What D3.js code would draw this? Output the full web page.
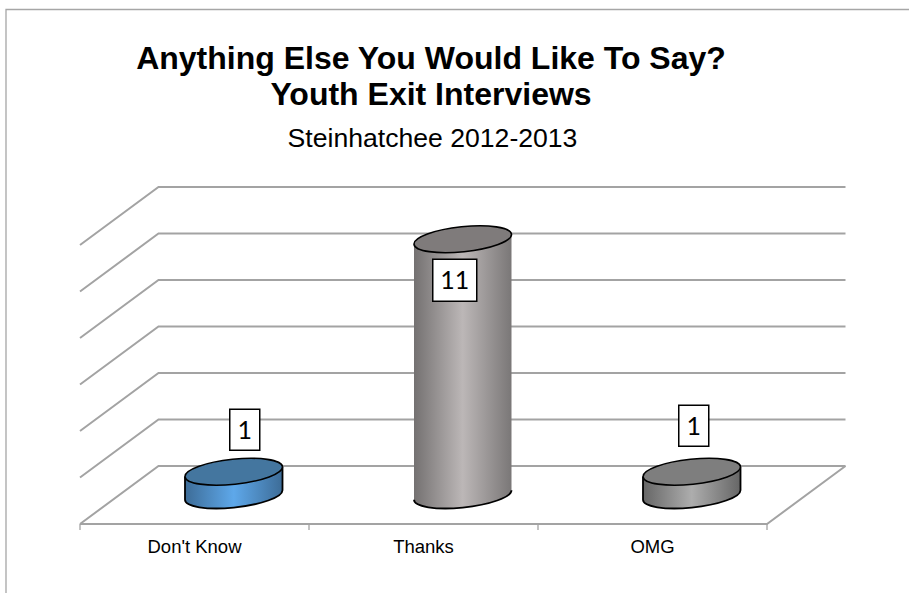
<!DOCTYPE html>
<html><head><meta charset="utf-8">
<style>html,body{margin:0;padding:0;background:#fff;overflow:hidden}svg{display:block}</style>
<script src="https://cdn.jsdelivr.net/npm/d3@7/dist/d3.min.js"></script>
</head><body><div id="chart"></div>
<script>
const categories = ["Don't Know", "Thanks", "OMG"];
const values = [1, 11, 1];
const gridValues = [0, 2, 4, 6, 8, 10, 12];
const titleLines = ["Anything Else You Would Like To Say?", "Youth Exit Interviews"];
const subtitle = "Steinhatchee 2012-2013";

const W = 909, H = 593;
const floorLeft = 80, floorRight = 767, floorFront = 524;
const depthX = 78.5, depthY = 58;
const wallHeight = 279;
const rx = 49, ry = 12.5, tilt = -6;
const sideShades = [
  ["#3d6c97", "#5ea8ea", "#3d6c97"],
  ["#747171", "#bcb7b7", "#7a7777"],
  ["#666666", "#adadad", "#666666"]
];
const topShades = ["#44769f", "#7f7b7b", "#7e7e7e"];
// label box: offset of the box centre from the cylinder's top centre
const labelBoxes = [{dx: 11, dy: -42, w: 30, h: 41}, {dx: -8, dy: 41, w: 44, h: 42}, {dx: 2, dy: -46, w: 30, h: 41}];

const svg = d3.select("#chart").append("svg").attr("width", W).attr("height", H);
const x = d3.scaleBand().domain(categories).range([floorLeft, floorRight]);
const y = d3.scaleLinear().domain([0, 12]).range([0, wallHeight]);
const GRID = "#a3a3a3";

// frame
svg.append("path").attr("d", `M${W},9.5H6V${H}`).attr("fill", "none").attr("stroke", "#a6a6a6").attr("stroke-width", 1.3);

// title
const t = svg.append("g").attr("text-anchor", "middle").attr("font-family", "'Liberation Sans',Arial,sans-serif");
t.selectAll("text.title").data(titleLines).join("text").attr("class", "title")
  .attr("x", 431).attr("y", (d, i) => 69 + i * 36)
  .attr("font-size", 32).attr("font-weight", 700).attr("fill", "#000").text(d => d);
t.append("text").attr("x", 432.5).attr("y", 147).attr("font-size", 26.6).attr("fill", "#000").text(subtitle);

// walls and floor
const backY = v => floorFront - depthY - y(v);
const grid = svg.append("g").attr("fill", "none").attr("stroke", GRID).attr("stroke-width", 2);
grid.selectAll("path").data(gridValues).join("path")
  .attr("d", v => `M${floorLeft},${backY(v) + depthY}L${floorLeft + depthX},${backY(v)}H${floorRight + depthX}`);
grid.append("path").attr("d", `M${floorLeft},${floorFront}H${floorRight}L${floorRight + depthX},${floorFront - depthY}`);

// category axis
const axis = svg.append("g").attr("transform", `translate(0,${floorFront})`)
  .call(d3.axisBottom(x).tickSize(0).tickPadding(16));
axis.select(".domain").remove();
axis.selectAll("text").attr("font-family", "'Liberation Sans',Arial,sans-serif").attr("font-size", 18.5).attr("fill", "#000");
svg.append("g").attr("stroke", GRID).attr("stroke-width", 1.3).selectAll("line")
  .data(d3.range(categories.length + 1)).join("line")
  .attr("x1", i => floorLeft + i * x.step()).attr("x2", i => floorLeft + i * x.step())
  .attr("y1", floorFront).attr("y2", floorFront + 6);

// cylinders
const defs = svg.append("defs");
sideShades.forEach((s, i) => {
  const g = defs.append("linearGradient").attr("id", "side" + i);
  s.forEach((c, j) => g.append("stop").attr("offset", j / (s.length - 1)).attr("stop-color", c));
});
const phi = tilt * Math.PI / 180;
const tx = Math.atan2(-ry * Math.sin(phi), rx * Math.cos(phi));
const edgeX = rx * Math.cos(tx) * Math.cos(phi) - ry * Math.sin(tx) * Math.sin(phi);
const edgeY = rx * Math.cos(tx) * Math.sin(phi) + ry * Math.sin(tx) * Math.cos(phi);

const bars = svg.append("g").selectAll("g").data(categories).join("g")
  .attr("transform", c => `translate(${x(c) + x.bandwidth() / 2 + depthX / 2},${floorFront - depthY / 2})`);
bars.append("path")
  .attr("d", (c, i) => {
    const h = y(values[i]);
    return `M${-edgeX},${-edgeY - h}L${-edgeX},${-edgeY}A${rx},${ry} ${tilt} 0 0 ${edgeX},${edgeY}L${edgeX},${edgeY - h}Z`;
  })
  .attr("fill", (c, i) => `url(#side${i})`).attr("stroke", "none");
bars.append("path")
  .attr("d", (c, i) => {
    const h = y(values[i]);
    return i === 1
      ? `M${-edgeX},${-edgeY}A${rx},${ry} ${tilt} 0 0 ${edgeX},${edgeY}`
      : `M${-edgeX},${-edgeY - h}L${-edgeX},${-edgeY}A${rx},${ry} ${tilt} 0 0 ${edgeX},${edgeY}L${edgeX},${edgeY - h}`;
  })
  .attr("fill", "none").attr("stroke", "#000").attr("stroke-width", 1.8);
bars.append("ellipse")
  .attr("rx", rx).attr("ry", ry)
  .attr("transform", (c, i) => `translate(0,${-y(values[i])}) rotate(${tilt})`)
  .attr("fill", (c, i) => topShades[i]).attr("stroke", "#000").attr("stroke-width", 1.6);

// value labels
const labels = bars.append("g")
  .attr("transform", (c, i) => `translate(${labelBoxes[i].dx},${labelBoxes[i].dy - y(values[i])})`);
labels.append("rect")
  .attr("x", (c, i) => -labelBoxes[i].w / 2).attr("y", (c, i) => -labelBoxes[i].h / 2)
  .attr("width", (c, i) => labelBoxes[i].w).attr("height", (c, i) => labelBoxes[i].h)
  .attr("fill", "#fff").attr("stroke", "#000").attr("stroke-width", 1.5);
labels.append("text").attr("text-anchor", "middle").attr("y", 9)
  .attr("font-family", "Lato,'Open Sans',sans-serif").attr("font-size", 25).attr("fill", "#000")
  .text((c, i) => values[i]);
</script></body></html>
